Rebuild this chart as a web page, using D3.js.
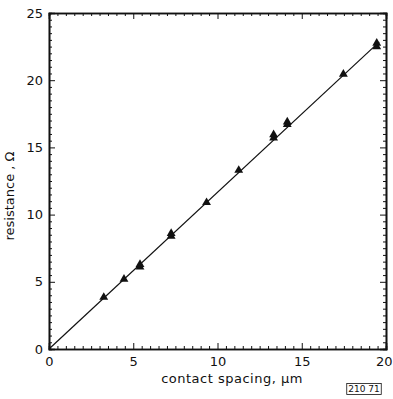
<!DOCTYPE html>
<html><head><meta charset="utf-8">
<script src="https://cdn.jsdelivr.net/npm/d3@7"></script>
<style>body{margin:0;background:#fff}svg{display:block}</style>
</head><body>
<script>
// Data
const spacing = [3.25, 4.45, 5.4, 5.4, 7.25, 7.25, 9.35, 11.26, 13.33, 13.33, 14.14, 14.14, 17.47, 19.45, 19.45];
const resistance = [3.85, 5.2, 6.1, 6.3, 8.4, 8.6, 10.9, 13.3, 15.7, 15.95, 16.7, 16.9, 20.45, 22.5, 22.75];
const fitX = [0, 19.6];
const fitY = [0, 22.85];
const xTicks = [0, 5, 10, 15, 20];
const yTicks = [0, 5, 10, 15, 20, 25];
const xLabel = "contact spacing, μm";
const yLabel = "resistance , Ω";
const figCode = "210 71";

const W = 393, H = 399;
const m = {l: 49, r: 7, t: 13, b: 50};
const svg = d3.select("body").append("svg").attr("width", W).attr("height", H);
const x = d3.scaleLinear().domain([0, 20]).range([m.l, W - m.r]);
const y = d3.scaleLinear().domain([0, 25]).range([H - m.b, m.t]);
const font = "DejaVu Sans";
const ink = "#111";

const minorX = d3.range(0, 20.01, 0.5).filter(v => v % 5 !== 0);
const minorY = d3.range(0, 25.01, 0.5).filter(v => v % 5 !== 0);

svg.append("g").attr("class", "xaxis").attr("transform", `translate(0,${y(0)})`)
  .call(d3.axisBottom(x).tickValues(xTicks).tickSize(-6).tickPadding(8).tickFormat(d3.format("d")));
svg.append("g").attr("transform", `translate(0,${y(0)})`)
  .call(d3.axisBottom(x).tickValues(minorX).tickSize(-3).tickFormat(""));
svg.append("g").attr("transform", `translate(${x(0)},0)`)
  .call(d3.axisLeft(y).tickValues(yTicks).tickSize(-6).tickPadding(6).tickFormat(d3.format("d")));
svg.append("g").attr("transform", `translate(${x(0)},0)`)
  .call(d3.axisLeft(y).tickValues(minorY).tickSize(-3).tickFormat(""));
svg.append("g").attr("transform", `translate(0,${y(25)})`)
  .call(d3.axisTop(x).tickValues(xTicks).tickSize(-6).tickFormat(""));
svg.append("g").attr("transform", `translate(0,${y(25)})`)
  .call(d3.axisTop(x).tickValues(minorX).tickSize(-3).tickFormat(""));
svg.append("g").attr("transform", `translate(${x(20)},0)`)
  .call(d3.axisRight(y).tickValues(yTicks).tickSize(-6).tickFormat(""));
svg.append("g").attr("transform", `translate(${x(20)},0)`)
  .call(d3.axisRight(y).tickValues(minorY).tickSize(-3).tickFormat(""));

svg.selectAll(".domain").attr("stroke", ink).attr("stroke-width", 1.6);
svg.selectAll(".tick line").attr("stroke", ink).attr("stroke-width", 1);
svg.selectAll(".tick text").attr("font-family", font).attr("font-size", 13).attr("fill", ink);
// keep last x tick label inside the window
svg.selectAll(".xaxis .tick text").filter(d => d === 20).attr("text-anchor", "end").attr("x", 6);

// fit line
svg.append("path")
  .datum(fitX.map((v, i) => [v, fitY[i]]))
  .attr("fill", "none").attr("stroke", ink).attr("stroke-width", 1.2)
  .attr("d", d3.line().x(d => x(d[0])).y(d => y(d[1])));

// markers
const tri = d3.symbol().type(d3.symbolTriangle).size(34);
svg.append("g").selectAll("path").data(spacing.map((v, i) => [v, resistance[i]]))
  .join("path")
  .attr("transform", d => `translate(${x(d[0])},${y(d[1])})`)
  .attr("d", tri).attr("fill", ink);

// labels
const g = svg.append("g").attr("font-family", font).attr("font-size", 13).attr("fill", ink);
g.append("text").attr("x", 232).attr("y", 383).attr("text-anchor", "middle")
  .attr("letter-spacing", 0.5).text(xLabel);
g.append("text").attr("transform", `translate(14,196) rotate(-90)`)
  .attr("text-anchor", "middle").text(yLabel);

// fig code box
const cg = svg.append("g");
const ct = cg.append("text").attr("x", 364).attr("y", 392).attr("text-anchor", "middle")
  .attr("font-family", font).attr("font-size", 9).attr("fill", ink).text(figCode);
const bb = ct.node().getBBox();
cg.append("rect").attr("x", bb.x - 1.5).attr("y", bb.y - 0.5).attr("width", bb.width + 3).attr("height", bb.height + 1)
  .attr("fill", "none").attr("stroke", ink).attr("stroke-width", 0.8);
</script>
</body></html>
